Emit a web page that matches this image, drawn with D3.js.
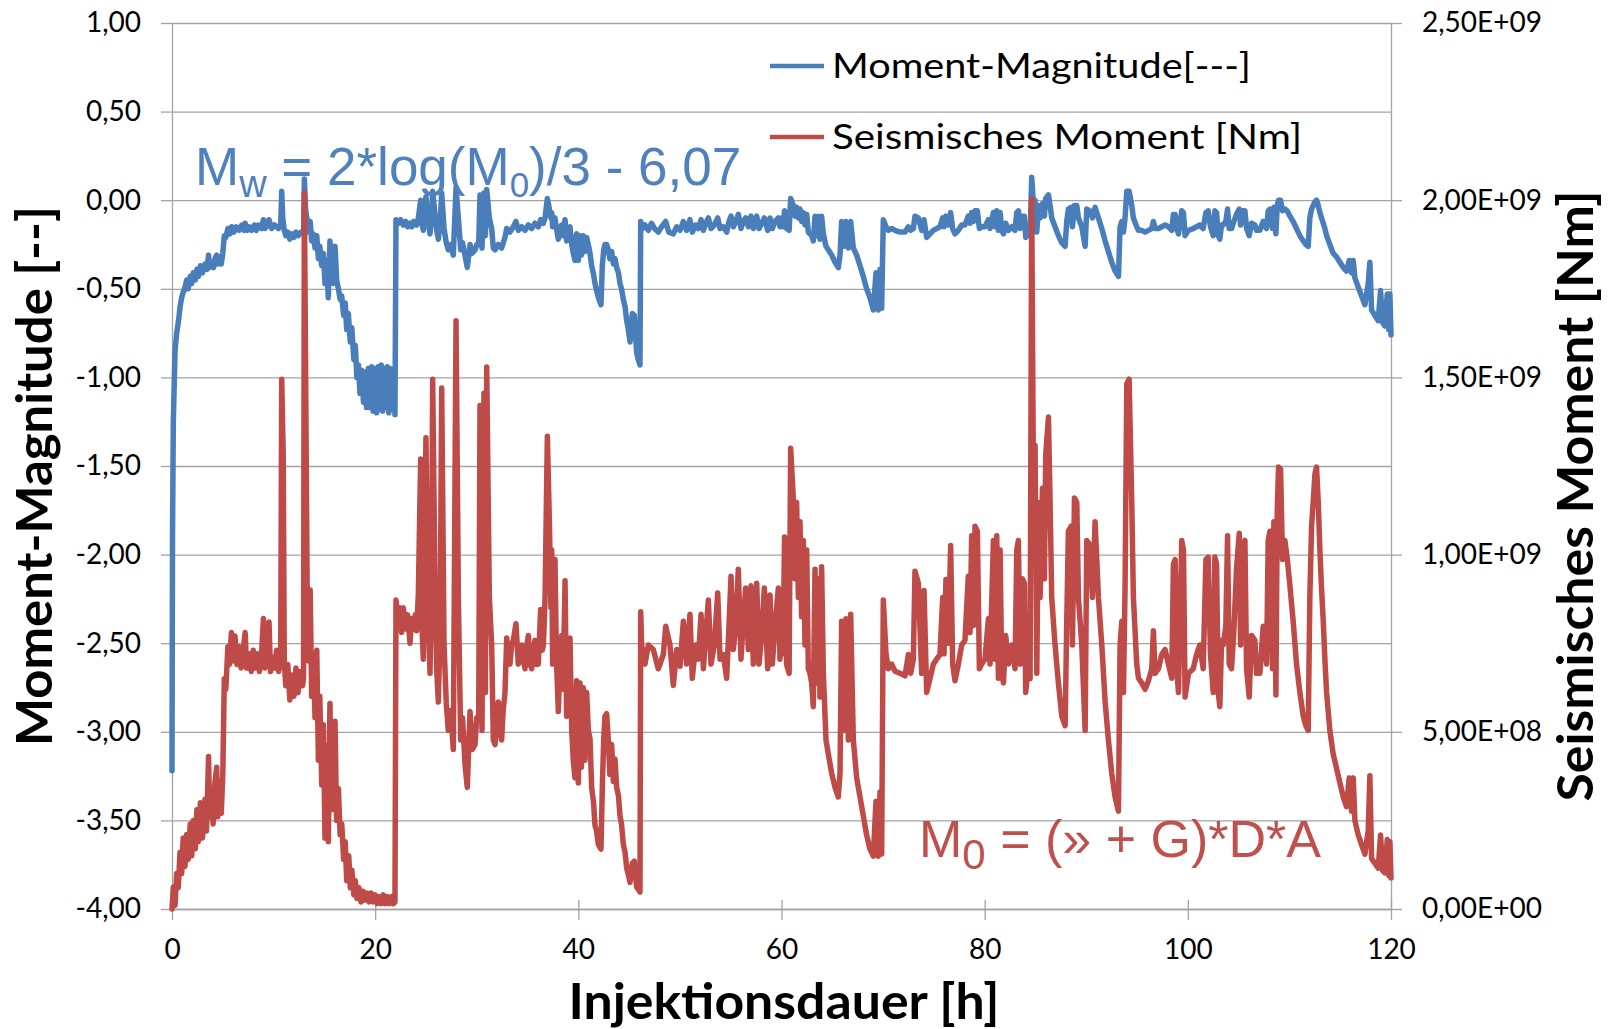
<!DOCTYPE html>
<html><head><meta charset="utf-8">
<script src="https://cdn.jsdelivr.net/npm/d3@7/dist/d3.min.js"></script>
<style>html,body{margin:0;padding:0;background:#fff;} svg{display:block;}</style>
</head><body>
<svg id="chart" width="1614" height="1029"></svg>
<script>
// ---------- data ----------
const hoursTicks = [0, 20, 40, 60, 80, 100, 120];
const magnitudeTicks = [-4, -3.5, -3, -2.5, -2, -1.5, -1, -0.5, 0, 0.5, 1];
const momentTicksE8 = [0, 5, 10, 15, 20, 25];          // x 1e8 Nm
const seriesNames = ["Moment-Magnitude[---]", "Seismisches Moment [Nm]"];
const axisTitles = { left: "Moment-Magnitude [--]", right: "Seismisches Moment [Nm]", bottom: "Injektionsdauer [h]" };

// Moment magnitude Mw [-] : [hours, value]
const magnitude = [[0,-3.22],[0.05,-1.9],[0.13,-1.25],[0.3,-0.85],[0.46,-0.75],[0.62,-0.69],[0.8,-0.6],[0.95,-0.55],[1.1,-0.52],[1.28,-0.49],[1.45,-0.45],[1.6,-0.5],[1.8,-0.43],[1.94,-0.47],[2.1,-0.41],[2.3,-0.45],[2.45,-0.39],[2.59,-0.43],[2.8,-0.37],[3.0,-0.41],[3.25,-0.36],[3.45,-0.39],[3.6,-0.31],[3.7,-0.38],[3.9,-0.35],[4.1,-0.38],[4.23,-0.33],[4.4,-0.31],[4.5,-0.36],[4.7,-0.32],[4.85,-0.36],[5.0,-0.3],[5.15,-0.2],[5.3,-0.21],[5.5,-0.16],[5.7,-0.19],[5.87,-0.15],[6.1,-0.18],[6.3,-0.15],[6.6,-0.17],[6.86,-0.14],[7.1,-0.17],[7.2,-0.13],[7.4,-0.17],[7.6,-0.15],[7.84,-0.17],[8.1,-0.14],[8.3,-0.17],[8.5,-0.14],[8.8,-0.16],[9.0,-0.11],[9.16,-0.16],[9.4,-0.14],[9.55,-0.11],[9.81,-0.16],[10.1,-0.14],[10.47,-0.16],[10.7,-0.14],[10.8,0.05],[10.9,-0.1],[11.05,-0.17],[11.2,-0.2],[11.4,-0.18],[11.6,-0.22],[11.78,-0.19],[12.0,-0.21],[12.2,-0.18],[12.44,-0.2],[12.7,-0.18],[12.95,-0.19],[13.03,0.12],[13.15,-0.05],[13.3,-0.11],[13.45,-0.18],[13.6,-0.12],[13.75,-0.23],[13.9,-0.19],[14.08,-0.27],[14.25,-0.2],[14.41,-0.33],[14.55,-0.26],[14.74,-0.37],[14.9,-0.3],[15.06,-0.47],[15.2,-0.34],[15.39,-0.55],[15.55,-0.23],[15.72,-0.39],[15.88,-0.47],[16.05,-0.26],[16.21,-0.45],[16.38,-0.5],[16.55,-0.56],[16.7,-0.54],[16.9,-0.65],[17.05,-0.58],[17.2,-0.73],[17.36,-0.64],[17.55,-0.8],[17.7,-0.72],[17.9,-0.9],[18.05,-0.82],[18.2,-1.0],[18.35,-0.93],[18.5,-1.09],[18.67,-0.96],[18.85,-1.14],[19.0,-0.97],[19.15,-1.17],[19.33,-0.95],[19.5,-1.17],[19.66,-0.94],[19.8,-1.19],[19.99,-0.95],[20.15,-1.2],[20.3,-0.94],[20.45,-1.18],[20.6,-0.93],[20.75,-1.19],[20.9,-0.95],[21.05,-1.17],[21.2,-0.94],[21.35,-1.2],[21.5,-0.95],[21.65,-1.18],[21.8,-0.96],[21.95,-1.21],[22.05,-0.11],[22.3,-0.13],[22.5,-0.11],[22.77,-0.14],[23.0,-0.12],[23.2,-0.15],[23.43,-0.13],[23.6,-0.15],[23.8,-0.12],[24.08,-0.14],[24.25,-0.1],[24.48,0.0],[24.6,-0.13],[24.74,-0.17],[24.85,-0.08],[25.0,0.02],[25.15,-0.1],[25.4,-0.19],[25.55,-0.08],[25.66,0.05],[25.89,-0.08],[26.05,-0.17],[26.22,-0.22],[26.4,-0.13],[26.55,0.04],[26.78,-0.16],[27.0,-0.24],[27.2,-0.28],[27.45,-0.25],[27.69,-0.31],[27.96,0.07],[28.19,-0.1],[28.42,-0.28],[28.6,-0.24],[28.84,-0.31],[29.07,-0.38],[29.34,-0.25],[29.55,-0.3],[29.83,-0.28],[30.0,-0.25],[30.19,-0.25],[30.32,0.03],[30.52,-0.27],[30.71,0.04],[30.85,-0.2],[30.98,0.06],[31.24,-0.1],[31.47,-0.16],[31.63,-0.27],[31.8,-0.28],[32.12,-0.25],[32.45,-0.27],[32.78,-0.21],[32.95,-0.16],[33.27,-0.18],[33.6,-0.15],[33.86,-0.12],[34.09,-0.17],[34.42,-0.15],[34.75,-0.17],[35.08,-0.14],[35.41,-0.16],[35.73,-0.13],[36.06,-0.15],[36.29,-0.11],[36.56,-0.13],[36.72,-0.1],[36.95,0.01],[37.15,-0.05],[37.3,-0.1],[37.38,-0.07],[37.47,-0.15],[37.7,-0.1],[37.85,-0.16],[38.03,-0.22],[38.2,-0.16],[38.36,-0.14],[38.5,-0.2],[38.69,-0.11],[38.85,-0.23],[39.0,-0.17],[39.18,-0.15],[39.35,-0.25],[39.5,-0.3],[39.67,-0.34],[39.83,-0.19],[40.0,-0.34],[40.16,-0.2],[40.3,-0.31],[40.49,-0.2],[40.65,-0.29],[40.82,-0.21],[40.98,-0.25],[41.15,-0.3],[41.31,-0.37],[41.5,-0.42],[41.64,-0.47],[41.8,-0.51],[41.97,-0.55],[42.1,-0.57],[42.23,-0.59],[42.36,-0.37],[42.5,-0.28],[42.62,-0.25],[42.79,-0.25],[42.95,-0.28],[43.1,-0.33],[43.28,-0.29],[43.45,-0.36],[43.61,-0.33],[43.77,-0.38],[43.95,-0.41],[44.1,-0.47],[44.25,-0.5],[44.43,-0.56],[44.6,-0.6],[44.76,-0.68],[44.9,-0.72],[45.09,-0.8],[45.31,-0.64],[45.51,-0.65],[45.74,-0.86],[45.9,-0.9],[46.07,-0.93],[46.14,-0.12],[46.3,-0.16],[46.56,-0.14],[46.89,-0.17],[47.2,-0.13],[47.5,-0.16],[47.87,-0.18],[48.2,-0.15],[48.6,-0.12],[48.9,-0.18],[49.35,-0.19],[49.68,-0.15],[50.01,-0.17],[50.34,-0.12],[50.66,-0.17],[50.99,-0.11],[51.22,-0.18],[51.55,-0.14],[51.81,-0.16],[52.08,-0.11],[52.31,-0.17],[52.54,-0.13],[52.8,-0.1],[53.06,-0.16],[53.39,-0.14],[53.72,-0.1],[53.95,-0.16],[54.27,-0.15],[54.6,-0.18],[54.83,-0.12],[55.03,-0.09],[55.26,-0.15],[55.49,-0.12],[55.75,-0.08],[56.01,-0.16],[56.24,-0.12],[56.47,-0.1],[56.74,-0.15],[57.0,-0.09],[57.23,-0.16],[57.56,-0.09],[57.79,-0.16],[58.05,-0.13],[58.31,-0.1],[58.64,-0.17],[58.87,-0.1],[59.1,-0.16],[59.36,-0.12],[59.69,-0.1],[59.85,-0.15],[60.0,-0.1],[60.15,-0.15],[60.3,-0.06],[60.5,-0.16],[60.75,-0.17],[60.9,0.01],[61.16,-0.03],[61.33,-0.09],[61.49,-0.04],[61.66,-0.1],[61.82,-0.05],[61.98,-0.12],[62.15,-0.07],[62.31,-0.14],[62.48,-0.08],[62.64,-0.18],[62.8,-0.19],[62.97,-0.2],[63.13,-0.23],[63.3,-0.09],[63.46,-0.2],[63.62,-0.09],[63.79,-0.22],[63.95,-0.09],[64.12,-0.19],[64.38,-0.26],[64.61,-0.28],[64.94,-0.31],[65.27,-0.35],[65.59,-0.38],[65.76,-0.31],[65.92,-0.12],[66.15,-0.26],[66.35,-0.12],[66.58,-0.27],[66.81,-0.12],[67.07,-0.27],[67.4,-0.31],[67.73,-0.37],[68.05,-0.43],[68.38,-0.5],[68.71,-0.55],[69.04,-0.62],[69.3,-0.41],[69.53,-0.62],[69.7,-0.39],[69.86,-0.61],[70.02,-0.11],[70.29,-0.15],[70.52,-0.17],[70.84,-0.16],[71.17,-0.17],[71.66,-0.18],[72.16,-0.18],[72.49,-0.15],[72.72,-0.17],[72.98,-0.16],[73.14,-0.09],[73.47,-0.1],[73.8,-0.17],[74.03,-0.11],[74.29,-0.21],[74.62,-0.19],[74.95,-0.17],[75.27,-0.16],[75.6,-0.15],[75.87,-0.1],[76.0,-0.15],[76.19,-0.09],[76.42,-0.14],[76.65,-0.07],[76.85,-0.16],[77.08,-0.19],[77.41,-0.17],[77.74,-0.14],[78.06,-0.14],[78.39,-0.09],[78.56,-0.13],[78.72,-0.07],[78.89,-0.12],[79.05,-0.06],[79.28,-0.06],[79.48,-0.16],[79.71,-0.15],[80.03,-0.15],[80.37,-0.11],[80.53,-0.16],[80.86,-0.07],[81.02,-0.15],[81.19,-0.06],[81.35,-0.17],[81.52,-0.07],[81.68,-0.17],[81.85,-0.19],[82.07,-0.13],[82.34,-0.17],[82.67,-0.15],[82.99,-0.17],[83.16,-0.07],[83.32,-0.06],[83.49,-0.16],[83.72,-0.09],[83.91,-0.09],[84.04,-0.21],[84.31,-0.17],[84.47,-0.2],[84.63,0.13],[84.8,-0.02],[84.96,0.0],[85.13,-0.18],[85.29,-0.03],[85.46,-0.1],[85.69,-0.02],[85.88,-0.09],[86.01,0.01],[86.28,0.03],[86.44,-0.03],[86.6,-0.1],[86.93,-0.15],[87.26,-0.2],[87.59,-0.24],[87.92,-0.26],[88.08,-0.12],[88.24,-0.05],[88.51,-0.04],[88.64,-0.15],[88.84,-0.03],[89.07,-0.03],[89.23,-0.1],[89.56,-0.15],[89.89,-0.26],[90.05,-0.05],[90.38,-0.06],[90.61,-0.1],[90.87,-0.04],[91.2,-0.1],[91.53,-0.16],[91.86,-0.23],[92.18,-0.29],[92.51,-0.35],[92.84,-0.4],[93.17,-0.43],[93.33,-0.15],[93.5,-0.12],[93.66,-0.18],[93.82,-0.1],[93.99,0.05],[94.22,0.05],[94.48,-0.03],[94.64,-0.1],[94.97,-0.15],[95.14,-0.17],[95.46,-0.17],[95.79,-0.18],[96.12,-0.17],[96.45,-0.16],[96.61,-0.12],[96.78,-0.16],[97.11,-0.16],[97.43,-0.15],[97.76,-0.14],[98.09,-0.15],[98.42,-0.17],[98.58,-0.08],[98.75,-0.08],[98.91,-0.16],[99.08,-0.19],[99.4,-0.06],[99.57,-0.07],[99.73,-0.2],[100.06,-0.17],[100.53,-0.16],[100.86,-0.15],[101.18,-0.14],[101.51,-0.16],[101.78,-0.07],[102.0,-0.06],[102.23,-0.15],[102.5,-0.2],[102.66,-0.06],[102.83,-0.07],[102.99,-0.2],[103.15,-0.22],[103.32,-0.14],[103.48,-0.14],[103.74,-0.12],[103.91,-0.05],[104.07,-0.16],[104.3,-0.16],[104.53,-0.12],[104.79,-0.08],[105.06,-0.05],[105.19,-0.14],[105.39,-0.06],[105.62,-0.06],[105.78,-0.16],[106.04,-0.2],[106.27,-0.13],[106.6,-0.14],[106.76,-0.17],[107.09,-0.17],[107.42,-0.12],[107.75,-0.16],[107.91,-0.06],[108.08,-0.05],[108.34,-0.16],[108.47,-0.04],[108.67,-0.19],[108.8,-0.03],[108.93,0.0],[109.13,0.0],[109.32,-0.06],[109.55,-0.05],[109.78,-0.06],[110.05,-0.09],[110.37,-0.12],[110.7,-0.16],[111.03,-0.2],[111.36,-0.23],[111.62,-0.25],[111.85,-0.26],[112.01,-0.1],[112.18,-0.05],[112.34,-0.03],[112.51,-0.01],[112.67,0.0],[112.84,-0.03],[113.0,-0.07],[113.16,-0.1],[113.33,-0.13],[113.49,-0.16],[113.66,-0.2],[113.98,-0.25],[114.31,-0.3],[114.64,-0.32],[114.97,-0.35],[115.3,-0.38],[115.62,-0.4],[115.89,-0.34],[116.12,-0.41],[116.28,-0.34],[116.45,-0.44],[116.77,-0.49],[117.1,-0.54],[117.43,-0.59],[117.76,-0.47],[117.92,-0.35],[118.09,-0.62],[118.41,-0.65],[118.74,-0.68],[118.97,-0.51],[119.17,-0.69],[119.4,-0.71],[119.63,-0.53],[119.79,-0.73],[119.89,-0.53],[120.0,-0.76]];

// Seismic moment M0 in units of 1e8 Nm : [hours, value]
const momentE8 = [[0,0],[0.13,0.62],[0.3,0.1],[0.46,1.0],[0.62,0.6],[0.79,1.6],[0.95,1.0],[1.1,2.0],[1.28,1.2],[1.45,2.1],[1.6,1.4],[1.8,2.4],[1.94,1.5],[2.1,2.5],[2.3,1.7],[2.45,2.8],[2.59,1.9],[2.8,3.0],[3.0,2.0],[3.25,3.1],[3.4,2.2],[3.6,4.3],[3.7,2.6],[3.9,3.3],[4.05,2.4],[4.2,3.5],[4.4,4.0],[4.5,2.6],[4.7,3.6],[4.85,2.7],[5.0,3.8],[5.15,6.5],[5.3,6.2],[5.5,7.4],[5.65,6.9],[5.85,7.8],[6.0,7.0],[6.2,7.7],[6.4,6.9],[6.6,7.4],[6.8,6.8],[7.0,7.3],[7.2,7.8],[7.35,6.8],[7.6,7.2],[7.8,6.7],[8.0,7.3],[8.2,6.8],[8.4,7.2],[8.6,6.7],[8.8,7.1],[9.0,8.2],[9.15,6.8],[9.35,7.2],[9.55,8.1],[9.7,6.7],[9.9,7.1],[10.1,6.8],[10.3,7.3],[10.5,6.7],[10.7,7.0],[10.8,14.95],[10.95,12.8],[11.05,7.0],[11.2,6.3],[11.4,6.9],[11.6,5.9],[11.8,6.6],[12.0,6.0],[12.2,6.8],[12.4,6.1],[12.6,6.7],[12.85,6.3],[12.95,6.5],[13.03,20.2],[13.3,9.2],[13.45,7.0],[13.6,9.0],[13.75,6.0],[13.9,7.2],[14.08,5.4],[14.25,7.3],[14.41,4.2],[14.55,6.0],[14.74,3.5],[14.9,5.2],[15.06,2.0],[15.2,4.6],[15.39,1.9],[15.55,5.8],[15.7,2.8],[15.88,4.6],[16.05,5.3],[16.2,2.5],[16.38,3.4],[16.55,2.1],[16.71,2.4],[16.9,1.4],[17.05,1.9],[17.2,0.8],[17.4,1.5],[17.55,0.6],[17.7,1.1],[17.9,0.4],[18.05,0.8],[18.2,0.3],[18.4,0.6],[18.6,0.2],[18.8,0.5],[19.0,0.25],[19.2,0.45],[19.4,0.2],[19.6,0.45],[19.8,0.2],[20.0,0.4],[20.2,0.15],[20.4,0.35],[20.6,0.15],[20.8,0.4],[21.0,0.15],[21.2,0.35],[21.4,0.15],[21.6,0.35],[21.8,0.15],[21.95,0.2],[22.05,8.72],[22.28,8.0],[22.44,8.5],[22.6,7.8],[22.77,8.5],[23.0,7.9],[23.2,8.3],[23.43,7.5],[23.6,8.2],[23.76,7.9],[23.95,8.3],[24.08,7.85],[24.25,8.9],[24.48,12.7],[24.6,8.0],[24.74,7.05],[24.85,9.5],[25.0,13.3],[25.15,9.0],[25.4,6.65],[25.55,9.5],[25.66,14.95],[25.89,9.2],[26.05,6.8],[26.22,5.84],[26.4,8.0],[26.55,14.7],[26.78,7.45],[27.0,5.8],[27.2,5.04],[27.45,5.6],[27.69,4.5],[27.96,16.6],[28.19,8.8],[28.42,4.77],[28.6,5.4],[28.84,4.1],[29.07,3.43],[29.34,5.57],[29.55,4.5],[29.83,4.64],[30.0,5.4],[30.19,5.3],[30.32,14.21],[30.52,5.04],[30.71,14.55],[30.85,6.11],[30.98,15.29],[31.24,8.79],[31.47,7.45],[31.63,4.77],[31.8,4.64],[31.95,5.3],[32.12,5.84],[32.3,5.0],[32.45,4.77],[32.6,5.6],[32.78,6.11],[32.95,7.65],[33.1,7.2],[33.27,6.91],[33.45,7.5],[33.6,7.58],[33.86,8.05],[34.09,6.91],[34.25,7.3],[34.42,7.45],[34.6,7.0],[34.75,6.78],[34.9,7.4],[35.08,7.72],[35.25,6.9],[35.41,6.78],[35.55,7.3],[35.73,7.58],[35.9,6.9],[36.06,6.91],[36.29,8.45],[36.45,7.3],[36.56,7.45],[36.72,8.72],[36.95,13.34],[37.15,10.93],[37.3,8.5],[37.38,10.13],[37.47,6.91],[37.7,9.86],[37.85,7.0],[38.03,5.57],[38.2,7.0],[38.36,7.72],[38.5,6.2],[38.69,9.26],[38.85,5.44],[39.0,6.8],[39.18,7.65],[39.35,5.04],[39.5,4.2],[39.67,3.7],[39.83,6.44],[40.0,3.56],[40.16,6.38],[40.3,4.0],[40.49,6.24],[40.65,4.2],[40.82,6.11],[40.98,5.04],[41.15,4.8],[41.31,3.43],[41.5,3.0],[41.64,2.36],[41.8,2.2],[41.97,1.82],[42.1,1.75],[42.23,1.69],[42.36,3.43],[42.5,4.8],[42.62,5.44],[42.79,5.51],[42.95,4.77],[43.1,3.8],[43.28,4.64],[43.45,3.6],[43.61,4.23],[43.77,3.43],[43.95,3.2],[44.1,2.63],[44.25,2.4],[44.43,1.82],[44.6,1.6],[44.76,1.15],[44.9,1.0],[45.09,0.75],[45.31,1.29],[45.51,1.35],[45.74,0.62],[45.9,0.55],[46.07,0.48],[46.14,8.39],[46.23,7.45],[46.56,6.91],[46.89,7.45],[47.38,7.32],[47.87,6.78],[48.37,7.18],[48.6,7.98],[49.02,7.45],[49.35,6.31],[49.68,7.32],[50.01,6.85],[50.34,8.12],[50.66,6.91],[50.99,8.32],[51.22,6.51],[51.55,7.45],[51.81,7.05],[52.08,8.32],[52.31,6.78],[52.54,7.72],[52.8,8.72],[53.06,6.91],[53.39,7.45],[53.72,8.92],[53.95,7.05],[54.27,7.18],[54.6,6.51],[54.83,7.98],[55.03,9.39],[55.26,7.32],[55.49,7.98],[55.75,9.59],[56.01,7.05],[56.24,8.12],[56.47,9.06],[56.74,7.32],[57.0,9.12],[57.23,6.91],[57.56,9.19],[57.79,6.91],[58.05,7.72],[58.31,9.06],[58.64,6.78],[58.87,8.86],[59.1,6.91],[59.36,7.98],[59.69,9.06],[59.85,7.05],[60.0,9.0],[60.15,7.2],[60.3,10.5],[60.5,6.9],[60.75,6.65],[60.9,13.0],[61.16,11.6],[61.33,9.32],[61.49,11.47],[61.66,8.79],[61.82,10.93],[61.98,8.25],[62.15,10.4],[62.31,7.45],[62.48,10.13],[62.64,6.78],[62.8,6.65],[62.97,6.38],[63.13,5.71],[63.3,9.59],[63.46,6.38],[63.62,9.32],[63.79,5.98],[63.95,9.66],[64.12,6.65],[64.38,4.77],[64.61,4.37],[64.94,3.83],[65.27,3.43],[65.59,3.16],[65.76,3.83],[65.92,8.12],[66.15,5.04],[66.35,8.19],[66.58,4.77],[66.81,8.32],[67.07,4.77],[67.4,3.7],[67.73,3.16],[68.05,2.63],[68.38,2.09],[68.71,1.69],[69.04,1.49],[69.3,3.03],[69.53,1.49],[69.7,3.3],[69.86,1.55],[70.02,8.72],[70.29,7.18],[70.52,6.78],[70.84,6.91],[71.17,6.71],[71.66,6.65],[72.16,6.58],[72.49,7.18],[72.72,6.65],[72.98,7.05],[73.14,9.53],[73.47,9.2],[73.8,6.65],[74.03,8.99],[74.29,6.11],[74.62,6.51],[74.95,6.91],[75.27,7.05],[75.6,7.18],[75.87,8.79],[76.0,7.2],[76.19,9.3],[76.42,7.5],[76.65,10.26],[76.85,6.91],[77.08,6.44],[77.41,6.91],[77.74,7.45],[78.06,7.58],[78.39,9.39],[78.56,7.8],[78.72,10.53],[78.89,8.0],[79.05,10.8],[79.28,10.66],[79.48,6.78],[79.71,6.91],[80.03,7.05],[80.37,8.2],[80.53,6.91],[80.86,10.4],[81.02,7.05],[81.19,10.53],[81.35,6.51],[81.52,10.13],[81.68,6.65],[81.85,6.38],[82.07,7.72],[82.34,6.91],[82.67,7.45],[82.99,6.78],[83.16,10.13],[83.32,10.4],[83.49,6.91],[83.72,9.32],[83.91,9.19],[84.04,6.11],[84.31,6.91],[84.47,6.5],[84.63,20.04],[84.8,12.0],[84.96,13.08],[85.13,6.65],[85.29,11.47],[85.46,8.79],[85.69,11.87],[85.88,9.32],[86.01,12.81],[86.28,13.88],[86.44,11.47],[86.6,8.79],[86.93,7.45],[87.26,6.38],[87.59,5.44],[87.92,5.17],[88.08,8.12],[88.24,10.66],[88.51,10.8],[88.64,7.45],[88.84,11.6],[89.07,11.47],[89.23,8.79],[89.56,7.45],[89.89,5.04],[90.05,10.4],[90.38,10.26],[90.61,8.79],[90.87,10.93],[91.2,8.79],[91.53,7.45],[91.86,5.84],[92.18,4.77],[92.51,3.83],[92.84,3.16],[93.17,2.76],[93.33,7.45],[93.5,8.12],[93.66,6.11],[93.82,9.06],[93.99,14.82],[94.22,14.95],[94.48,11.47],[94.64,8.79],[94.97,6.91],[95.14,6.51],[95.46,6.38],[95.79,6.2],[96.12,6.44],[96.45,6.78],[96.61,7.85],[96.78,6.65],[97.11,6.78],[97.43,7.18],[97.76,7.32],[98.09,6.91],[98.42,6.51],[98.58,9.73],[98.75,9.86],[98.91,6.78],[99.08,6.11],[99.4,10.4],[99.57,10.13],[99.73,5.98],[100.06,6.65],[100.53,6.78],[100.86,7.18],[101.18,7.45],[101.51,6.78],[101.78,9.86],[102.0,9.93],[102.23,7.18],[102.5,6.11],[102.66,9.93],[102.83,9.73],[102.99,6.11],[103.15,5.71],[103.32,7.58],[103.48,7.45],[103.74,7.98],[103.91,10.53],[104.07,6.91],[104.3,6.78],[104.53,7.85],[104.79,9.59],[105.06,10.6],[105.19,7.45],[105.39,10.13],[105.62,10.4],[105.78,6.78],[106.04,5.98],[106.27,7.72],[106.6,7.58],[106.76,6.65],[107.09,6.65],[107.42,7.98],[107.75,6.91],[107.91,10.4],[108.08,10.66],[108.34,6.78],[108.47,10.93],[108.67,6.04],[108.8,11.2],[108.93,12.47],[109.13,12.41],[109.32,9.86],[109.55,10.4],[109.78,9.9],[110.05,9.12],[110.37,8.12],[110.7,6.91],[111.03,6.11],[111.36,5.44],[111.62,5.17],[111.85,5.04],[112.01,8.79],[112.18,10.8],[112.34,11.47],[112.51,12.27],[112.67,12.47],[112.84,11.47],[113.0,10.13],[113.16,9.06],[113.33,8.12],[113.49,7.05],[113.66,6.11],[113.98,5.04],[114.31,4.37],[114.64,3.97],[114.97,3.56],[115.3,3.16],[115.62,2.89],[115.89,3.7],[116.12,2.76],[116.28,3.7],[116.45,2.49],[116.77,2.09],[117.1,1.82],[117.43,1.55],[117.76,2.22],[117.92,3.76],[118.09,1.42],[118.41,1.29],[118.74,1.15],[118.97,2.09],[119.17,1.09],[119.4,1.02],[119.63,1.96],[119.79,0.95],[119.89,1.9],[120.0,0.88]];

// ---------- drawing ----------
const W = 1614, H = 1029;
const M = { left: 172, right: 1391, top: 23, bottom: 909 };
const blue = "#4A7EBB", red = "#BE4B48";
const gridCol = "#A3A3A3";
const tickFont = "Lato, 'Open Sans', sans-serif";
const lineW = 5.5;

const svg = d3.select("#chart");
svg.append("rect").attr("width", W).attr("height", H).attr("fill", "#fff");

const x = d3.scaleLinear().domain([0, 120]).range([M.left, M.right]);
const yL = d3.scaleLinear().domain([-4, 1]).range([M.bottom, M.top]);
const yR = d3.scaleLinear().domain([0, 25]).range([M.bottom, M.top]);

const fmtLeft = v => (v < 0 ? "-" : "") + Math.abs(v).toFixed(2).replace(".", ",");
const fmtSci = v => {
  const n = v * 1e8;
  if (n === 0) return "0,00E+00";
  const e = Math.floor(Math.log10(n) + 1e-9);
  const m = n / Math.pow(10, e);
  return m.toFixed(2).replace(".", ",") + "E+" + String(e).padStart(2, "0");
};

// gridlines
const grid = svg.append("g").attr("transform", `translate(${M.left},0)`)
  .call(d3.axisLeft(yL).tickValues(magnitudeTicks).tickSize(-(M.right - M.left)).tickFormat(""));
grid.select(".domain").remove();
grid.selectAll("line").attr("stroke", gridCol).attr("stroke-width", 1.3);

function styleAxis(g) {
  g.selectAll("path.domain").attr("stroke", gridCol).attr("stroke-width", 1.3);
  g.selectAll(".tick line").attr("stroke", gridCol).attr("stroke-width", 1.3);
  g.selectAll(".tick text").attr("font-family", tickFont).attr("font-size", 28).attr("fill", "#000");
}

// left axis
const gL = svg.append("g").attr("transform", `translate(${M.left},0)`)
  .call(d3.axisLeft(yL).tickValues(magnitudeTicks).tickFormat(fmtLeft).tickSizeInner(11).tickSizeOuter(0).tickPadding(20));
styleAxis(gL);

// right axis
const gR = svg.append("g").attr("transform", `translate(${M.right},0)`)
  .call(d3.axisRight(yR).tickValues(momentTicksE8).tickFormat(fmtSci).tickSizeInner(11).tickSizeOuter(0).tickPadding(20));
styleAxis(gR);

// bottom axis
const gB = svg.append("g").attr("transform", `translate(0,${M.bottom})`)
  .call(d3.axisBottom(x).tickValues(hoursTicks).tickFormat(d => String(d)).tickSizeInner(11).tickSizeOuter(0).tickPadding(19));
styleAxis(gB);
gB.selectAll(".tick line").attr("y1", -9);

// series
const lineL = d3.line().x(d => x(d[0])).y(d => yL(d[1]));
const lineR = d3.line().x(d => x(d[0])).y(d => yR(d[1]));
svg.append("path").datum(magnitude).attr("d", lineL)
  .attr("fill", "none").attr("stroke", blue).attr("stroke-width", lineW)
  .attr("stroke-linejoin", "round").attr("stroke-linecap", "round");
svg.append("path").datum(momentE8).attr("d", lineR)
  .attr("fill", "none").attr("stroke", red).attr("stroke-width", lineW)
  .attr("stroke-linejoin", "round").attr("stroke-linecap", "round");

// axis titles
const titleFont = "Lato, 'Open Sans', sans-serif";
svg.append("text").attr("transform", "translate(52,476) rotate(-90)")
  .attr("text-anchor", "middle").attr("font-family", titleFont).attr("font-weight", "bold")
  .attr("font-size", 50).attr("textLength", 540).attr("lengthAdjust", "spacingAndGlyphs")
  .text(axisTitles.left);
svg.append("text").attr("transform", "translate(1593,496) rotate(-90)")
  .attr("text-anchor", "middle").attr("font-family", titleFont).attr("font-weight", "bold")
  .attr("font-size", 50).attr("textLength", 611).attr("lengthAdjust", "spacingAndGlyphs")
  .text(axisTitles.right);
svg.append("text").attr("x", 784).attr("y", 1019)
  .attr("text-anchor", "middle").attr("font-family", titleFont).attr("font-weight", "bold")
  .attr("font-size", 50).attr("textLength", 431).attr("lengthAdjust", "spacingAndGlyphs")
  .text(axisTitles.bottom);

// legend
const legend = svg.append("g");
const legendRows = [{ name: seriesNames[0], color: blue, y: 66, len: 419 }, { name: seriesNames[1], color: red, y: 137, len: 470 }];
legendRows.forEach(r => {
  legend.append("line").attr("x1", 770).attr("x2", 824).attr("y1", r.y).attr("y2", r.y)
    .attr("stroke", r.color).attr("stroke-width", 4.5);
  legend.append("text").attr("x", 832).attr("y", r.y + 11.5)
    .attr("font-family", titleFont).attr("font-size", 34).attr("fill", "#000")
    .attr("textLength", r.len).attr("lengthAdjust", "spacingAndGlyphs").text(r.name);
});

// formula annotations
const fFont = "'Liberation Sans', Arial, sans-serif";
const f1 = svg.append("text").attr("x", 195).attr("y", 185).attr("font-family", fFont)
  .attr("font-size", 53).attr("fill", "#4F81BD");
f1.append("tspan").text("M");
f1.append("tspan").attr("font-size", 38).attr("dy", 12).text("w");
f1.append("tspan").attr("dy", -12).text(" = 2*log(M");
f1.append("tspan").attr("font-size", 35).attr("dy", 12).text("0");
f1.append("tspan").attr("dy", -12).text(")/3 - 6,07");

const f2 = svg.append("text").attr("x", 919).attr("y", 857).attr("font-family", fFont)
  .attr("font-size", 52).attr("fill", "#C0504D");
f2.append("tspan").text("M");
f2.append("tspan").attr("font-size", 42).attr("dy", 12).text("0");
f2.append("tspan").attr("dy", -12).text(" = (\u00BB + G)*D*A");
</script>
</body></html>
